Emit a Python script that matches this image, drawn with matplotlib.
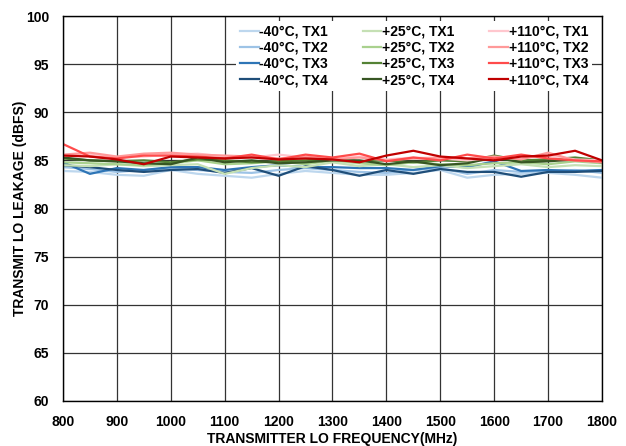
import matplotlib
matplotlib.use('Agg')
import matplotlib.pyplot as plt
import numpy as np

plt.rcParams['font.family'] = ['Liberation Sans', 'DejaVu Sans']
plt.rcParams['font.weight'] = 'bold'

freq = np.arange(800, 1801, 50)

# -40C
m40_tx1 = [83.9, 83.8, 83.5, 83.4, 84.0, 83.6, 83.4, 83.2, 83.6, 83.9, 83.7,
           83.5, 83.5, 83.7, 84.0, 83.2, 83.5, 83.6, 83.7, 83.5, 83.2]
m40_tx2 = [84.3, 84.1, 83.8, 84.0, 84.2, 84.0, 83.8, 83.7, 84.0, 84.2, 84.0,
           83.8, 83.7, 84.0, 84.2, 83.6, 84.0, 83.8, 83.9, 84.0, 83.7]
m40_tx3 = [84.8, 83.6, 84.2, 84.0, 84.3, 84.3, 84.0, 84.3, 84.5, 84.3, 84.3,
           84.2, 84.2, 84.0, 84.4, 84.3, 84.9, 83.9, 84.0, 83.9, 84.0]
m40_tx4 = [84.5, 84.3, 84.0, 83.8, 84.0, 84.1, 83.7, 84.2, 83.4, 84.4, 84.0,
           83.4, 84.0, 83.6, 84.1, 83.8, 83.8, 83.3, 83.8, 83.8, 83.9]
# +25C
p25_tx1 = [84.5, 84.4, 84.6, 84.4, 84.5, 84.6, 83.6, 84.2, 84.5, 84.3, 84.8,
           84.4, 84.6, 84.3, 84.5, 84.2, 84.4, 84.6, 84.3, 84.5, 84.4]
p25_tx2 = [84.8, 84.7, 84.6, 84.5, 84.7, 85.0, 84.6, 84.7, 84.9, 84.6, 85.0,
           84.7, 84.5, 84.8, 84.6, 84.5, 84.7, 84.8, 84.6, 84.9, 84.7]
p25_tx3 = [85.2, 85.0, 84.9, 85.0, 84.8, 85.1, 85.0, 84.8, 84.9, 85.0, 85.2,
           84.9, 85.0, 84.8, 85.0, 84.9, 85.5, 85.0, 85.1, 85.3, 85.0]
p25_tx4 = [85.3, 85.0, 84.9, 84.7, 84.6, 85.3, 84.8, 85.0, 84.7, 84.8, 85.0,
           85.0, 84.6, 84.9, 84.5, 84.7, 85.3, 84.8, 84.9, 85.1, 84.8]
# +110C
p110_tx1 = [85.5, 85.6, 85.3, 85.4, 85.6, 85.7, 85.4, 85.3, 85.6, 85.3, 85.2,
            85.4, 85.1, 85.3, 85.2, 85.0, 85.3, 85.2, 85.5, 85.1, 85.0]
p110_tx2 = [85.6, 85.8, 85.4, 85.7, 85.8, 85.6, 85.5, 85.4, 85.2, 85.4, 85.1,
            85.3, 85.0, 85.2, 85.3, 85.2, 85.4, 85.1, 85.8, 85.0, 84.8]
p110_tx3 = [86.7, 85.4, 85.2, 85.5, 85.5, 85.4, 85.2, 85.6, 85.1, 85.6, 85.3,
            85.7, 84.9, 85.3, 85.0, 85.6, 85.2, 85.6, 85.2, 85.0, 84.9]
p110_tx4 = [85.5, 85.4, 85.1, 84.6, 85.4, 85.3, 85.2, 85.3, 85.1, 85.2, 85.1,
            84.8, 85.5, 86.0, 85.4, 85.2, 85.0, 85.4, 85.5, 86.0, 85.0]

series = [
    ('-40°C, TX1', m40_tx1, '#BDD7EE'),
    ('-40°C, TX2', m40_tx2, '#9DC3E6'),
    ('-40°C, TX3', m40_tx3, '#2E75B6'),
    ('-40°C, TX4', m40_tx4, '#1F4E79'),
    ('+25°C, TX1', p25_tx1, '#C5E0B4'),
    ('+25°C, TX2', p25_tx2, '#A9D18E'),
    ('+25°C, TX3', p25_tx3, '#548235'),
    ('+25°C, TX4', p25_tx4, '#375623'),
    ('+110°C, TX1', p110_tx1, '#FFC7CE'),
    ('+110°C, TX2', p110_tx2, '#FF9999'),
    ('+110°C, TX3', p110_tx3, '#FF4B4B'),
    ('+110°C, TX4', p110_tx4, '#C00000'),
]

fig = plt.figure(figsize=(6.26, 4.46), dpi=100)
ax = fig.add_axes([0.1006, 0.1009, 0.8611, 0.8632])

for name, vals, col in series:
    ax.plot(freq, vals, color=col, lw=1.6, label=name)

ax.set_xlim(800, 1800)
ax.set_ylim(60, 100)
ax.set_xticks(np.arange(800, 1801, 100))
ax.set_yticks(np.arange(60, 101, 5))
ax.grid(True, color='#333333', lw=0.9)
ax.tick_params(axis='x', length=0, labelsize=10, pad=10)
ax.tick_params(axis='y', length=0, labelsize=10, pad=10)
for lbl in ax.get_xticklabels() + ax.get_yticklabels():
    lbl.set_fontweight('bold')
for s in ax.spines.values():
    s.set_color('black')
    s.set_linewidth(1.0)

ax.set_xlabel('TRANSMITTER LO FREQUENCY(MHz)', fontsize=10, fontweight='bold', labelpad=2)
ax.set_ylabel('TRANSMIT LO LEAKAGE (dBFS)', fontsize=10, fontweight='bold', labelpad=-1)

leg = ax.legend(loc='upper right', ncol=3, frameon=True, fontsize=10,
                handlelength=1.35, handletextpad=0.05, columnspacing=2.5,
                labelspacing=0.15, borderpad=0.3, bbox_to_anchor=(0.995, 1.006))
leg.get_frame().set_edgecolor('none')
leg.get_frame().set_facecolor('white')
leg.get_frame().set_alpha(1.0)
for t in leg.get_texts():
    t.set_fontweight('bold')

fig.savefig('out.png', dpi=100)
